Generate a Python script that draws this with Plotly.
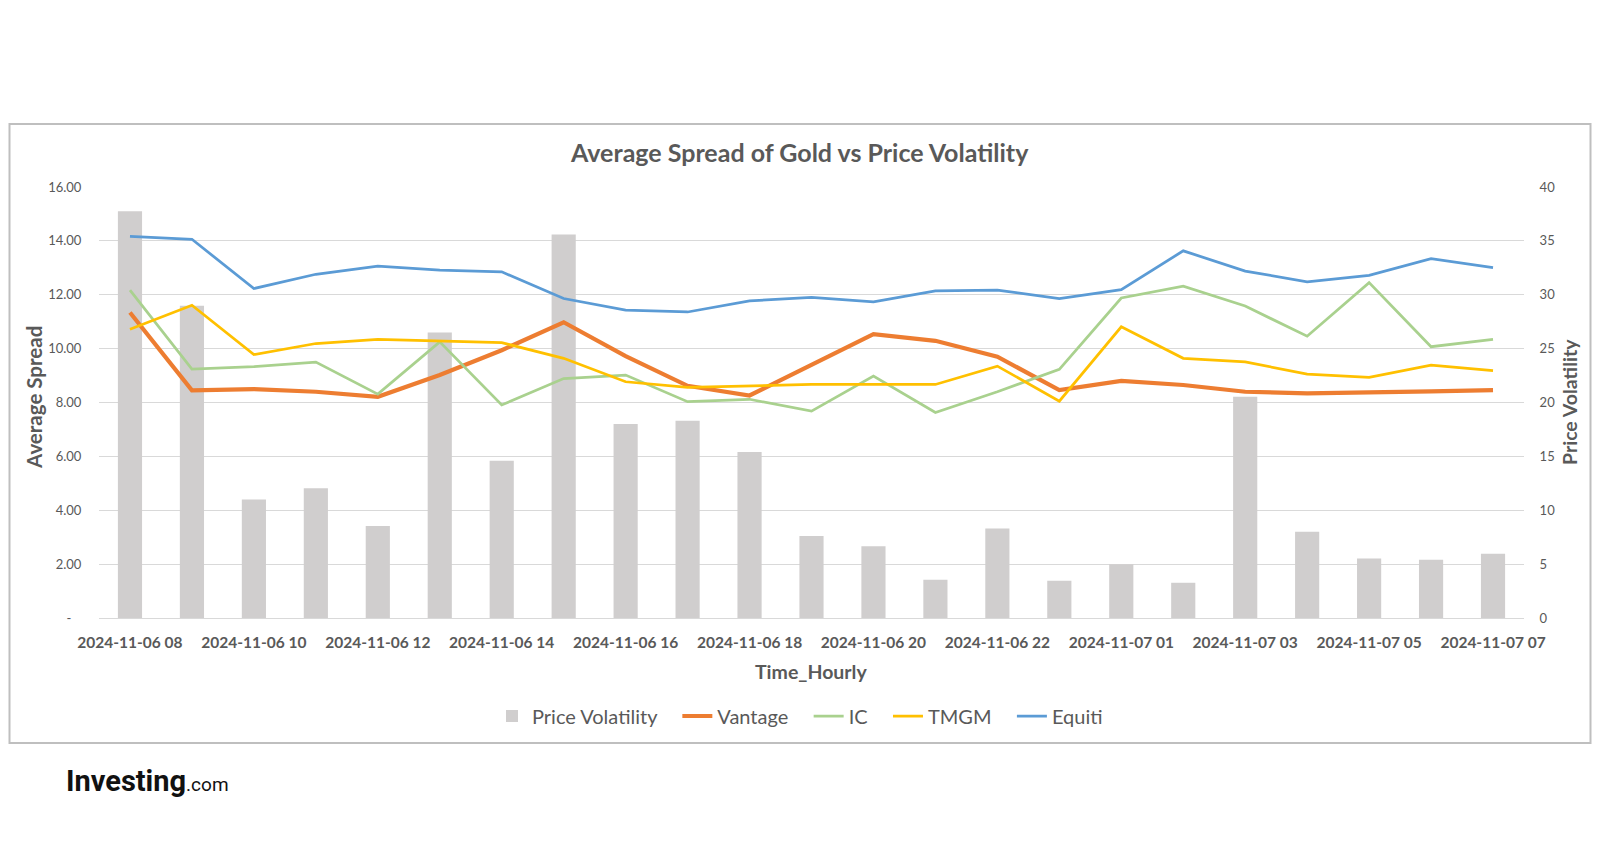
import plotly.graph_objects as go

categories = [
    "2024-11-06 08", "2024-11-06 09", "2024-11-06 10", "2024-11-06 11",
    "2024-11-06 12", "2024-11-06 13", "2024-11-06 14", "2024-11-06 15",
    "2024-11-06 16", "2024-11-06 17", "2024-11-06 18", "2024-11-06 19",
    "2024-11-06 20", "2024-11-06 21", "2024-11-06 22", "2024-11-06 23",
    "2024-11-07 01", "2024-11-07 02", "2024-11-07 03", "2024-11-07 04",
    "2024-11-07 05", "2024-11-07 06", "2024-11-07 07",
]

price_volatility = [37.75, 28.97, 11.0, 12.05, 8.53, 26.5, 14.6, 35.6, 18.0, 18.3,
                    15.4, 7.6, 6.67, 3.55, 8.3, 3.46, 5.0, 3.27, 20.54, 8.0,
                    5.53, 5.4, 5.96]

vantage = [11.34, 8.45, 8.50, 8.40, 8.21, 9.02, 9.94, 10.98, 9.72, 8.62,
           8.26, 9.39, 10.54, 10.29, 9.70, 8.46, 8.80, 8.65, 8.40, 8.34,
           8.36, 8.41, 8.46]

ic = [12.17, 9.24, 9.33, 9.50, 8.31, 10.25, 7.91, 8.89, 9.02, 8.03,
      8.12, 7.68, 8.98, 7.63, 8.40, 9.23, 11.88, 12.32, 11.58, 10.46,
      12.45, 10.07, 10.34]

tmgm = [10.72, 11.61, 9.78, 10.19, 10.34, 10.29, 10.22, 9.64, 8.77, 8.56,
        8.62, 8.67, 8.67, 8.67, 9.35, 8.05, 10.81, 9.64, 9.51, 9.05,
        8.93, 9.39, 9.18]

equiti = [14.17, 14.06, 12.23, 12.76, 13.06, 12.91, 12.85, 11.86, 11.43, 11.36,
          11.77, 11.90, 11.74, 12.14, 12.17, 11.86, 12.19, 13.63, 12.88, 12.48,
          12.72, 13.34, 13.01]

left_ticks = [0, 2, 4, 6, 8, 10, 12, 14, 16]
left_ticktext = ["-\u00a0\u00a0\u00a0", "2.00", "4.00", "6.00", "8.00", "10.00", "12.00", "14.00", "16.00"]
right_ticks = [0, 5, 10, 15, 20, 25, 30, 35, 40]

FONT = "Lato, 'Open Sans', sans-serif"
GRAY = "#595959"
PAD = "\u00a0\u00a0\u00a0"

fig = go.Figure()
fig.add_trace(go.Bar(x=categories, y=price_volatility, name="Price Volatility" + PAD,
                     marker=dict(color="#D0CECE", line=dict(width=0)), yaxis="y"))
fig.add_trace(go.Scatter(x=categories, y=vantage, name="Vantage" + PAD, mode="lines",
                         line=dict(color="#ED7D31", width=4.2), yaxis="y2"))
fig.add_trace(go.Scatter(x=categories, y=ic, name="IC" + PAD, mode="lines",
                         line=dict(color="#A9D18E", width=2.75), yaxis="y2"))
fig.add_trace(go.Scatter(x=categories, y=tmgm, name="TMGM" + PAD, mode="lines",
                         line=dict(color="#FFC000", width=2.75), yaxis="y2"))
fig.add_trace(go.Scatter(x=categories, y=equiti, name="Equiti", mode="lines",
                         line=dict(color="#5B9BD5", width=2.75), yaxis="y2"))

# page body has an 8px margin on every side; keep the figure inside the viewport
OFF = 8
W, H = 1600 - 2 * OFF, 868 - 2 * OFF
L, R, T, B = 99 - OFF, 1524 - OFF, 187 - OFF, 618 - OFF
pw, ph = R - L, B - T


def px(x):
    return (x - OFF - L) / pw


def py(y):
    return (B - (y - OFF)) / ph


fig.update_layout(
    width=W, height=H,
    margin=dict(l=L, r=W - R, t=T, b=H - B, pad=0),
    paper_bgcolor="white", plot_bgcolor="white",
    bargap=0.61,
    showlegend=True,
    legend=dict(orientation="h", x=px(800), xanchor="center", y=py(716), yanchor="middle",
                font=dict(family=FONT, size=20, color=GRAY), traceorder="normal",
                itemwidth=30, bgcolor="rgba(0,0,0,0)"),
    xaxis=dict(type="category", categoryorder="array", categoryarray=categories,
               tickvals=categories[::2], ticktext=categories[::2],
               tickfont=dict(family=FONT, size=15.5, color=GRAY, weight="bold"),
               ticks="outside", ticklen=10, tickcolor="rgba(0,0,0,0)",
               showgrid=False, showline=True, linecolor="#D9D9D9", linewidth=1,
               zeroline=False, fixedrange=True),
    yaxis=dict(side="right", range=[0, 40], tickvals=right_ticks,
               tickfont=dict(family=FONT, size=13, color=GRAY),
               ticks="outside", ticklen=12, tickcolor="rgba(0,0,0,0)",
               showgrid=True, gridcolor="#D9D9D9", gridwidth=1, zeroline=False,
               showline=False),
    yaxis2=dict(side="left", overlaying="y", range=[0, 16], tickvals=left_ticks,
                ticktext=left_ticktext,
                tickfont=dict(family=FONT, size=13, color=GRAY),
                ticks="outside", ticklen=14, tickcolor="rgba(0,0,0,0)",
                showgrid=False, zeroline=False, showline=False),
    shapes=[dict(type="rect", xref="paper", yref="paper",
                 x0=px(9.5), x1=px(1590.5), y0=py(743), y1=py(124),
                 line=dict(color="#BFBFBF", width=2), fillcolor="rgba(0,0,0,0)",
                 layer="below")],
    annotations=[
        dict(text="<b>Average Spread of Gold vs Price Volatility</b>", xref="paper", yref="paper",
             x=px(799), y=py(152), xanchor="center", yanchor="middle", showarrow=False,
             font=dict(family=FONT, size=25, color=GRAY)),
        dict(text="<b>Average Spread</b>", xref="paper", yref="paper",
             x=px(34), y=py(398), xanchor="center", yanchor="middle", showarrow=False,
             textangle=-90, font=dict(family=FONT, size=20.5, color=GRAY)),
        dict(text="<b>Price Volatility</b>", xref="paper", yref="paper",
             x=px(1569), y=py(402), xanchor="center", yanchor="middle", showarrow=False,
             textangle=-90, font=dict(family=FONT, size=19.5, color=GRAY)),
        dict(text="<b>Time_Hourly</b>", xref="paper", yref="paper",
             x=px(811), y=py(671), xanchor="center", yanchor="middle", showarrow=False,
             font=dict(family=FONT, size=19.5, color=GRAY)),
        dict(text="<b>Investing</b><span style='font-size:19px;font-weight:normal'>.com</span>",
             xref="paper", yref="paper",
             x=px(64), y=py(781), xanchor="left", yanchor="middle", showarrow=False,
             font=dict(family="'Liberation Sans Narrow', 'Roboto', sans-serif", size=29, color="#111111")),
    ],
)

fig.write_html("out.html")
